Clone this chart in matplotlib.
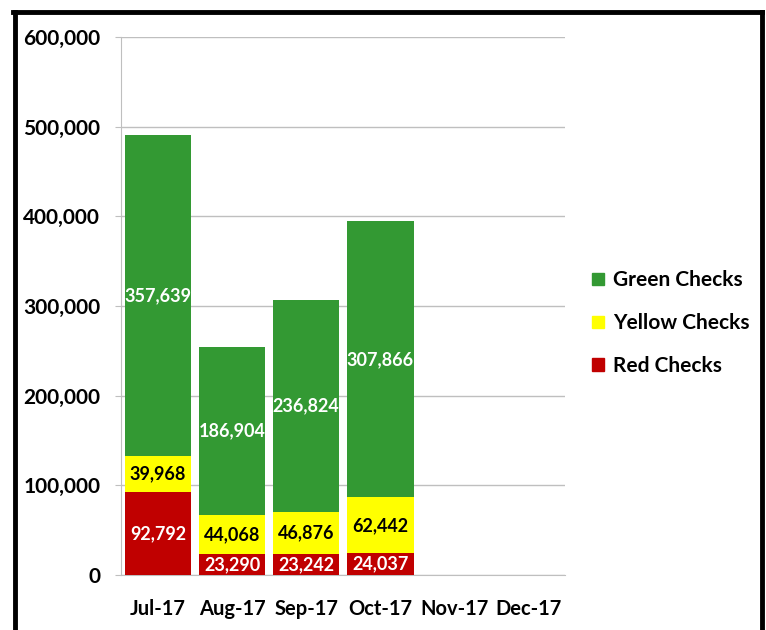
import matplotlib.pyplot as plt
from matplotlib.lines import Line2D
from matplotlib.patches import Patch

plt.rcParams['font.family'] = ['Lato', 'DejaVu Sans']
plt.rcParams['font.weight'] = 'bold'

# --- data ---
months = ["Jul-17", "Aug-17", "Sep-17", "Oct-17", "Nov-17", "Dec-17"]
red = [92792, 23290, 23242, 24037]
yellow = [39968, 44068, 46876, 62442]
green = [357639, 186904, 236824, 307866]
yticks = [0, 100000, 200000, 300000, 400000, 500000, 600000]

c_red = "#C00000"
c_yellow = "#FFFF00"
c_green = "#339933"

fig = plt.figure(figsize=(7.66, 6.3), dpi=100)
ax = fig.add_axes([0.158, 0.0873, 0.58, 0.854])

x = list(range(len(red)))
w = 0.9
ax.bar(x, red, width=w, color=c_red, zorder=3)
ax.bar(x, yellow, width=w, bottom=red, color=c_yellow, zorder=3)
bottom_g = [r + y for r, y in zip(red, yellow)]
ax.bar(x, green, width=w, bottom=bottom_g, color=c_green, zorder=3)

# data labels
fs = 13
for i in x:
    ax.text(i, red[i] / 2, f"{red[i]:,}", ha="center", va="center",
            color="white", fontsize=fs, fontweight="bold", zorder=4)
    ax.text(i, red[i] + yellow[i] / 2, f"{yellow[i]:,}", ha="center", va="center",
            color="black", fontsize=fs, fontweight="bold", zorder=4)
    ax.text(i, bottom_g[i] + green[i] / 2, f"{green[i]:,}", ha="center", va="center",
            color="white", fontsize=fs, fontweight="bold", zorder=4)

ax.set_xlim(-0.5, len(months) - 0.5)
ax.set_ylim(0, 600000)
ax.set_xticks(range(len(months)))
ax.set_xticklabels(months, fontsize=14.5, fontweight="bold")
ax.set_yticks(yticks)
ax.set_yticklabels([f"{v:,}" for v in yticks], fontsize=15, fontweight="bold")
ax.tick_params(axis="x", length=0, pad=17)
ax.tick_params(axis="y", length=4, color="#BFBFBF", pad=11)
ax.yaxis.grid(True, color="#BFBFBF", linewidth=1, zorder=0)

for s in ["top", "right"]:
    ax.spines[s].set_visible(False)
ax.spines["left"].set_color("#BFBFBF")
ax.spines["bottom"].set_color("#BFBFBF")

handles = [Patch(color=c_green), Patch(color=c_yellow), Patch(color=c_red)]
fig.legend(handles, ["Green Checks", "Yellow Checks", "Red Checks"],
           loc="center left", bbox_to_anchor=(0.749, 0.487), frameon=False,
           handlelength=0.55, handleheight=0.55, handletextpad=0.45,
           labelspacing=1.1, prop={"weight": "bold", "size": 15})

# outer black frame
fig.add_artist(Line2D([0.019, 0.019], [-0.1, 0.981], color="black", lw=3.5,
                      transform=fig.transFigure))
fig.add_artist(Line2D([0.017, 0.995], [0.981, 0.981], color="black", lw=3.5,
                      transform=fig.transFigure))
fig.add_artist(Line2D([0.995, 0.995], [-0.1, 0.981], color="black", lw=3.5,
                      transform=fig.transFigure))

fig.savefig("out.png", dpi=100)
